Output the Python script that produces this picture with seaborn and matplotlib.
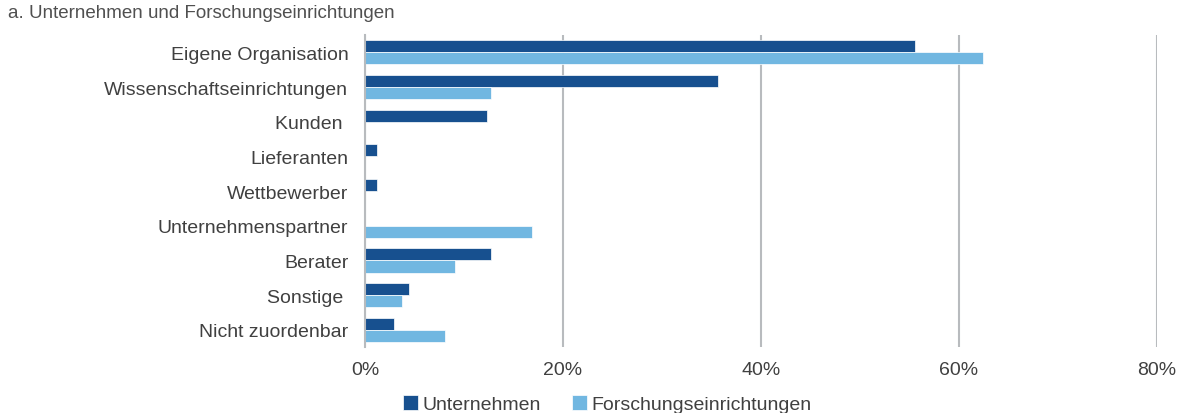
import pandas as pd
import matplotlib
matplotlib.use("Agg")
import matplotlib.pyplot as plt
import seaborn as sns
from matplotlib.ticker import PercentFormatter

categories = ["Eigene Organisation", "Wissenschaftseinrichtungen", "Kunden ", "Lieferanten",
              "Wettbewerber", "Unternehmenspartner", "Berater", "Sonstige ", "Nicht zuordenbar"]
unternehmen = [55.6, 35.7, 12.3, 1.2, 1.2, 0.0, 12.7, 4.4, 2.9]
forschung = [62.4, 12.7, 0.0, 0.0, 0.0, 16.9, 9.1, 3.7, 8.1]
series_names = ["Unternehmen", "Forschungseinrichtungen"]
colors = ["#17508f", "#71b7e1"]

df = pd.DataFrame({
    "Kategorie": categories * 2,
    "Anteil": unternehmen + forschung,
    "Gruppe": [series_names[0]] * len(categories) + [series_names[1]] * len(categories),
})

sns.set_style("white")
plt.rcParams["font.family"] = ["Liberation Sans", "DejaVu Sans"]
text_col = "#404040"

fig, ax = plt.subplots(figsize=(11.83, 4.14), dpi=100)
fig.subplots_adjust(left=0.3085, right=0.978, top=0.913, bottom=0.159)

sns.barplot(data=df, y="Kategorie", x="Anteil", hue="Gruppe", hue_order=series_names,
            palette=colors, orient="h", width=0.7, edgecolor="white", linewidth=0.5,
            saturation=1, ax=ax)

ax.set_xlim(0, 80)
ax.set_xticks([0, 20, 40, 60, 80])
ax.xaxis.set_major_formatter(PercentFormatter(decimals=0))
ax.grid(axis="x", color="#b8bbbe", linewidth=1.5)
ax.set_axisbelow(True)
for s in ["top", "right", "bottom"]:
    ax.spines[s].set_visible(False)
ax.spines["left"].set_color("#b8bbbe")
ax.spines["left"].set_linewidth(1.5)
ax.set_xlabel("")
ax.set_ylabel("")
ax.tick_params(axis="both", length=0, labelsize=14, colors=text_col)
ax.tick_params(axis="x", pad=10)
ax.tick_params(axis="y", pad=12)

handles, labels = ax.get_legend_handles_labels()
ax.get_legend().remove()
fig.legend(handles, labels, loc="center", bbox_to_anchor=(0.513, 0.022), ncol=2, frameon=False,
           fontsize=14, handlelength=0.8, handleheight=0.8, handletextpad=0.2,
           columnspacing=1.6, labelcolor=text_col, borderpad=0)

fig.text(0.007, 0.968, "a. Unternehmen und Forschungseinrichtungen", fontsize=13.5,
         color="#505050", va="center", ha="left")

fig.savefig("out.png", dpi=100)
